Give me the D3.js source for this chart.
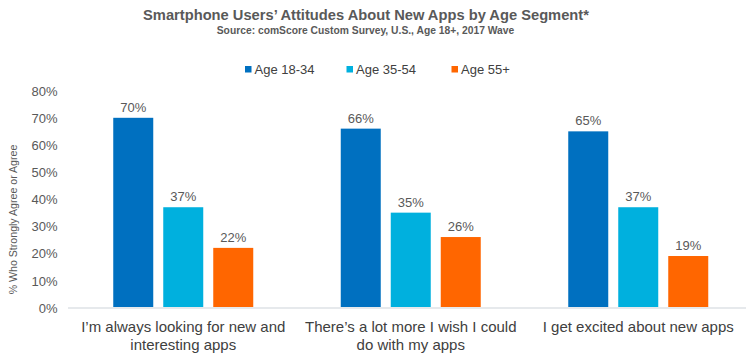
<!DOCTYPE html>
<html>
<head>
<meta charset="utf-8">
<script src="https://cdn.jsdelivr.net/npm/d3@7"></script>
<style>
  html, body { margin: 0; padding: 0; background: #fff; }
  svg { display: block; font-family: "Liberation Sans", Arial, sans-serif; }
</style>
</head>
<body>
<svg id="chart" width="746" height="356"></svg>
<script>
const categories = [
  "I\u2019m always looking for new and\ninteresting apps",
  "There\u2019s a lot more I wish I could\ndo with my apps",
  "I get excited about new apps"
];
const seriesNames = ["Age 18-34", "Age 35-54", "Age 55+"];
const age1834 = [0.70, 0.66, 0.65];
const age3554 = [0.37, 0.35, 0.37];
const age55plus = [0.22, 0.26, 0.19];
const yTicks = [0, 0.1, 0.2, 0.3, 0.4, 0.5, 0.6, 0.7, 0.8];
const colors = ["#0070C0", "#00B0DE", "#FF6600"];

const seriesValues = [age1834, age3554, age55plus];
const svg = d3.select("#chart");
const textColor = "#595959";

const x0 = d3.scaleBand().domain(categories).range([69.5, 752]).padding(0);
const x1 = d3.scaleBand().domain(seriesNames)
  .range([x0.bandwidth() / 2 - 70, x0.bandwidth() / 2 + 70])
  .paddingInner(0.2).paddingOuter(0);
const y = d3.scaleLinear().domain([0, 0.8]).range([307.5, 90.7]);
const color = d3.scaleOrdinal().domain(seriesNames).range(colors);

// Title
svg.append("text").attr("x", 366).attr("y", 20).attr("text-anchor", "middle")
  .attr("font-size", 14.7).attr("font-weight", "bold").attr("fill", textColor)
  .text("Smartphone Users\u2019 Attitudes About New Apps by Age Segment*");
svg.append("text").attr("x", 365.5).attr("y", 34).attr("text-anchor", "middle")
  .attr("font-size", 10.3).attr("font-weight", "bold").attr("fill", textColor)
  .text("Source: comScore Custom Survey, U.S., Age 18+, 2017 Wave");

// Legend
const legendX = [245, 346.5, 451.5];
const legend = svg.append("g");
seriesNames.forEach((s, i) => {
  legend.append("rect").attr("x", legendX[i]).attr("y", 66).attr("width", 6.5).attr("height", 6.5)
    .attr("fill", color(s));
  legend.append("text").attr("x", legendX[i] + 9.5).attr("y", 73.8)
    .attr("font-size", 13).attr("fill", "#404040").text(s);
});

// Y axis
const yAxis = d3.axisLeft(y).tickValues(yTicks).tickFormat(d3.format(".0%")).tickSize(0).tickPadding(0);
const yg = svg.append("g").attr("transform", "translate(57.5,0)").call(yAxis);
yg.select(".domain").remove();
yg.selectAll("text").attr("font-size", 13).attr("fill", textColor)
  .attr("font-family", "Liberation Sans, Arial, sans-serif").attr("dy", "0.36em");

svg.append("text")
  .attr("transform", "translate(16.5,219.5) rotate(-90)")
  .attr("text-anchor", "middle").attr("font-size", 10.6).attr("fill", textColor)
  .text("% Who Strongly Agree or Agree");

// Bars
const groups = svg.append("g").selectAll("g").data(categories).join("g")
  .attr("transform", d => `translate(${x0(d)},0)`);

groups.each(function(cat, ci) {
  const g = d3.select(this);
  seriesNames.forEach((s, si) => {
    const v = seriesValues[si][ci];
    g.append("rect")
      .attr("x", x1(s)).attr("y", y(v))
      .attr("width", x1.bandwidth()).attr("height", y(0) - y(v))
      .attr("fill", color(s));
    g.append("text")
      .attr("x", x1(s) + x1.bandwidth() / 2).attr("y", y(v) - 6)
      .attr("text-anchor", "middle").attr("font-size", 13).attr("fill", textColor)
      .text(d3.format(".0%")(v));
  });
});

// X axis baseline
svg.append("line").attr("x1", 68).attr("x2", 746).attr("y1", 308).attr("y2", 308)
  .attr("stroke", "#e6e9ec").attr("stroke-width", 2);

// Category labels
const xAxis = d3.axisBottom(x0).tickSize(0).tickFormat("");
const xg = svg.append("g").attr("transform", "translate(0,308)").call(xAxis);
xg.select(".domain").remove();
xg.selectAll(".tick").each(function(d) {
  const t = d3.select(this).append("text")
    .attr("text-anchor", "middle").attr("font-size", 15).attr("fill", "#404040")
    .attr("font-family", "Liberation Sans, Arial, sans-serif");
  d.split("\n").forEach((line, i) => {
    t.append("tspan").attr("x", 0).attr("y", 24 + i * 17.6).text(line);
  });
});
</script>
</body>
</html>
